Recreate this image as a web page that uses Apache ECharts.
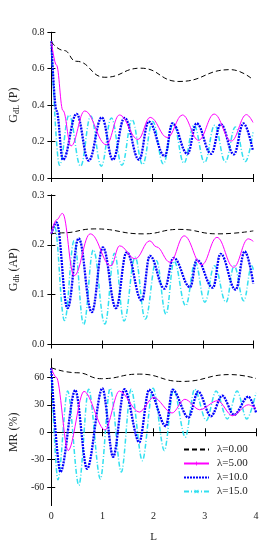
<!DOCTYPE html>
<html><head><meta charset="utf-8">
<script src="https://cdn.jsdelivr.net/npm/echarts@6/dist/echarts.min.js"></script>
<style>html,body{margin:0;padding:0;background:#fff}#c{width:273px;height:545px}</style>
</head><body><div id="c"></div>
<script>
// Legend names
const seriesNames = ['λ=0.00', 'λ=5.00', 'λ=10.0', 'λ=15.0'];

// Panel 1: G_dL (P) vs L  — [L, value]
const gP_lam0 = [[0,0.747],[0.25,0.70],[0.49,0.641],[1.06,0.553],[1.77,0.603],[2.53,0.530],[3.55,0.595],[4,0.540]];
const gP_lam5 = [[0,0.75],[0.1,0.62],[0.23,0.37],[0.39,0.176],[0.66,0.368],[1.09,0.183],[1.35,0.346],[1.72,0.212],[1.96,0.333],[2.3,0.222],[2.6,0.346],[2.92,0.207],[3.23,0.351],[3.57,0.203],[3.87,0.348],[4,0.305]];
const gP_lam10 = [[0,0.75],[0.1,0.37],[0.23,0.1],[0.5,0.352],[0.74,0.095],[1.0,0.333],[1.22,0.1],[1.45,0.33],[1.74,0.1],[1.93,0.31],[2.25,0.12],[2.4,0.30],[2.7,0.133],[2.88,0.30],[3.17,0.133],[3.36,0.296],[3.62,0.13],[3.81,0.30],[4,0.148]];
const gP_lam15 = [[0,0.75],[0.16,0.07],[0.35,0.346],[0.58,0.065],[0.78,0.34],[0.99,0.065],[1.19,0.33],[1.4,0.07],[1.6,0.32],[1.81,0.074],[2.01,0.31],[2.22,0.078],[2.42,0.30],[2.63,0.082],[2.83,0.29],[3.04,0.085],[3.24,0.29],[3.45,0.088],[3.65,0.28],[3.85,0.09],[4,0.25]];

// Panel 2: G_dh (AP) vs L
const gAP_lam0 = [[0,0.222],[0.2,0.224],[0.86,0.232],[1.82,0.222],[2.53,0.231],[3.3,0.222],[4,0.228]];
const gAP_lam5 = [[0,0.222],[0.1,0.25],[0.22,0.263],[0.45,0.138],[0.77,0.222],[1.18,0.158],[1.35,0.198],[1.66,0.172],[1.95,0.208],[2.08,0.196],[2.35,0.165],[2.63,0.218],[2.98,0.16],[3.28,0.215],[3.61,0.155],[3.9,0.212],[4,0.207]];
const gAP_lam10 = [[0,0.222],[0.1,0.245],[0.32,0.073],[0.54,0.213],[0.8,0.065],[1.02,0.195],[1.28,0.073],[1.49,0.185],[1.79,0.088],[1.95,0.178],[2.24,0.112],[2.42,0.174],[2.75,0.115],[2.88,0.17],[3.2,0.114],[3.35,0.182],[3.65,0.11],[3.83,0.187],[4,0.122]];
const gAP_lam15 = [[0,0.222],[0.06,0.238],[0.26,0.048],[0.45,0.208],[0.64,0.04],[0.83,0.19],[1.06,0.041],[1.25,0.183],[1.44,0.047],[1.66,0.175],[1.86,0.051],[2.08,0.168],[2.27,0.061],[2.43,0.167],[2.66,0.078],[2.85,0.165],[3.04,0.085],[3.23,0.158],[3.46,0.085],[3.62,0.158],[3.81,0.088],[3.97,0.158],[4,0.15]];

// Panel 3: MR (%) vs L
const mr_lam0 = [[0,70.5],[0.5,65],[0.98,58.5],[1.72,63.5],[2.55,55.5],[3.5,63],[4,58.7]];
const mr_lam5 = [[0,70],[0.1,60],[0.33,-20],[0.64,44.6],[1.05,2.5],[1.33,45],[1.72,22],[2.0,38],[2.36,21],[2.61,36],[2.9,24.6],[3.25,34.5],[3.54,18],[3.85,30],[4,26]];
const mr_lam10 = [[0,70],[0.18,-43.5],[0.47,46],[0.7,-40],[1.0,48],[1.21,-27],[1.43,47],[1.72,-11],[1.91,46.4],[2.24,6.5],[2.37,46.4],[2.68,16],[2.87,44.6],[3.12,17.4],[3.34,40],[3.57,19],[3.85,39],[4,21.8]];
const mr_lam15 = [[0,70],[0.13,-52],[0.32,45],[0.54,-58],[0.73,47],[0.96,-51],[1.15,48],[1.37,-43.5],[1.56,47],[1.78,-31],[1.99,48],[2.21,-20],[2.39,47],[2.62,-5.4],[2.8,47],[3.03,12.7],[3.22,45],[3.44,14.5],[3.63,45],[3.82,14.5],[4,43]];

// Axis tick values
const xTicks = [0, 1, 2, 3, 4];
const yTicks1 = [0, 0.2, 0.4, 0.6, 0.8];
const yTicks2 = [0, 0.1, 0.2, 0.3];
const yTicks3 = [-60, -30, 0, 30, 60];

const panels = [
  [gP_lam0, gP_lam5, gP_lam10, gP_lam15],
  [gAP_lam0, gAP_lam5, gAP_lam10, gAP_lam15],
  [mr_lam0, mr_lam5, mr_lam10, mr_lam15]
];

const styles = [
  {color:'#000000', width:1, type:[5,3], symbol:'none', legendSym:false},
  {color:'#ff00ff', width:1, type:'solid', symbol:'path://M4,0h2v4h4v2h-4v4h-2v-4h-4v-2h4z', legendSym:true},
  {color:'#0000ff', width:2.3, type:[2,1], symbol:'none', legendSym:false},
  {color:'#33e0f0', width:1.5, type:[5,2,1,2], symbol:'path://M1,0L5,4L9,0L10,1L6,5L10,9L9,10L5,6L1,10L0,9L4,5L0,1Z', legendSym:true}
];

const serif = 'Liberation Serif';
const grids = [
  {left:44.7, top:32.3, width:208.3, height:145.7},
  {left:45, top:195, width:208.3, height:149.5},
  {left:46.7, top:359, width:209.3, height:146.5}
];

const axLine = {show:true, lineStyle:{color:'#000', width:1}};
const tick = {show:true, inside:true, length:4, lineStyle:{color:'#000'}};

const xAxis = [], yAxis = [];
for (let i = 0; i < 3; i++) {
  xAxis.push({type:'value', gridIndex:i, min:0, max:4, interval:1, position:'bottom',
    axisLine:axLine, axisTick:tick, splitLine:{show:false},
    axisLabel:{show:i===2, margin:6, fontFamily:serif, fontSize:10, color:'#222'},
    name: i===2 ? 'L' : '', nameLocation:'middle', nameGap:26,
    nameTextStyle:{fontFamily:serif, fontSize:11, color:'#222'}});
}
for (let i = 0; i < 3; i++) {
  xAxis.push({type:'value', gridIndex:i, min:0, max:4, interval:1, position:'top',
    axisLine:axLine, axisTick:tick, splitLine:{show:false}, axisLabel:{show:false}});
}
const yNames = [
  '{g|G}{s|dL}{g| (P)}',
  '{g|G}{s|dh}{g| (AP)}',
  '{g|MR (%)}'
];
const yCfg = [
  {min:0, max:0.8, interval:0.2, fmt:v=>v.toFixed(1), ticks:yTicks1},
  {min:0, max:0.3, interval:0.1, fmt:v=>v.toFixed(1), ticks:yTicks2},
  {min:-80, max:80, fmt:v=>String(v), ticks:yTicks3}
];
for (let i = 0; i < 3; i++) {
  const c = yCfg[i];
  const ax = {type:'value', gridIndex:i, min:c.min, max:c.max, position:'left',
    axisLine:axLine, splitLine:{show:false},
    axisTick:Object.assign({}, tick),
    axisLabel:{margin:7, fontFamily:serif, fontSize:10, color:'#222', formatter:c.fmt},
    name:yNames[i], nameLocation:'middle', nameRotate:90, nameGap:i===2?25:24,
    nameTextStyle:{fontFamily:serif, color:'#222',
      rich:{g:{fontFamily:serif, fontSize:12, color:'#222'},
            s:{fontFamily:serif, fontSize:8, color:'#222', padding:[6,0,0,0]}}}};
  if (c.interval) ax.interval = c.interval;
  else {
    ax.axisLabel.customValues = c.ticks;
    ax.axisTick.customValues = c.ticks;
  }
  yAxis.push(ax);
}
for (let i = 0; i < 3; i++) {
  const c = yCfg[i];
  const ax = {type:'value', gridIndex:i, min:c.min, max:c.max, position:'right',
    axisLine:axLine, splitLine:{show:false}, axisTick:Object.assign({}, tick),
    axisLabel:{show:false}};
  if (c.interval) ax.interval = c.interval;
  else ax.axisTick.customValues = c.ticks;
  yAxis.push(ax);
}

const series = [];
panels.forEach((p, pi) => {
  p.forEach((d, si) => {
    series.push({
      type:'line', name:seriesNames[si], xAxisIndex:pi, yAxisIndex:pi,
      data:d, smooth:si===0?0.5:(pi===2?0.33:0.4), smoothMonotone:'x',
      symbol:styles[si].symbol, showSymbol:false,
      lineStyle:{color:styles[si].color, width:styles[si].width, type:styles[si].type},
      itemStyle:{color:styles[si].color},
      z: 10 - si
    });
  });
});

const legendData = seriesNames.map((n, i) => styles[i].legendSym
  ? {name:n}
  : {name:n, itemStyle:{opacity:0}});

const chart = echarts.init(document.getElementById('c'), null, {renderer:'canvas'});
chart.setOption({
  animation:false,
  backgroundColor:'#fff',
  grid:grids,
  xAxis:xAxis,
  yAxis:yAxis,
  legend:{data:legendData, orient:'vertical', left:178, top:439, itemWidth:25, itemHeight:5,
    itemGap:3, textStyle:{fontFamily:serif, fontSize:11, color:'#222', padding:[0,0,0,3]}},
  series:series
});
</script>
</body></html>
